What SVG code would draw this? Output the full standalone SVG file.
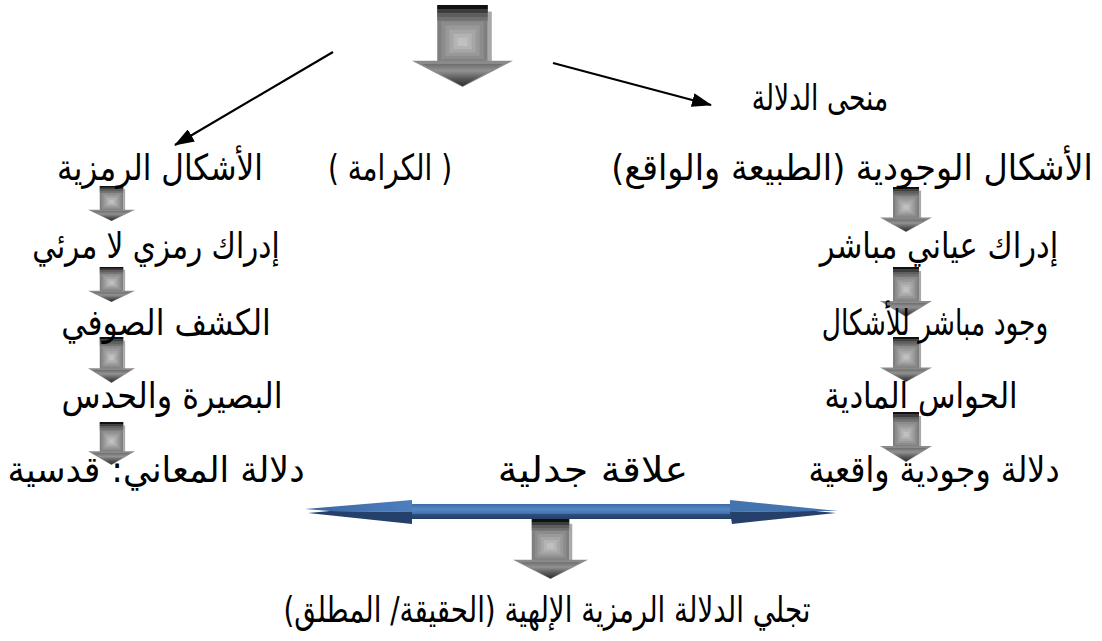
<svg xmlns="http://www.w3.org/2000/svg" xmlns:xlink="http://www.w3.org/1999/xlink" width="1102" height="641" viewBox="0 0 1102 641">
<style>
.t{font-family:"DejaVu Sans","Noto Sans",sans-serif;font-size:36px;fill:#000;text-anchor:middle;direction:rtl}
.ln{stroke:#000;stroke-width:2.2;fill:none}
</style>
<defs>
<linearGradient id="gHead" x1="0" y1="0" x2="0" y2="1">
<stop offset="0" stop-color="#6e6e6e"/>
<stop offset="0.3" stop-color="#929292"/>
<stop offset="0.65" stop-color="#5a5a5a"/>
<stop offset="1" stop-color="#2e2e2e"/>
</linearGradient>
<linearGradient id="bShaft" x1="0" y1="0" x2="0" y2="1">
<stop offset="0" stop-color="#3d6ba5"/>
<stop offset="0.35" stop-color="#5687c4"/>
<stop offset="0.62" stop-color="#4676b2"/>
<stop offset="0.7" stop-color="#2c4f80"/>
<stop offset="1" stop-color="#253f66"/>
</linearGradient>
<linearGradient id="bHx" x1="0" y1="0" x2="1" y2="0">
<stop offset="0" stop-color="#3a66a0"/>
<stop offset="1" stop-color="#4d7fbe"/>
</linearGradient>
<symbol id="ga" viewBox="0 0 100 100" preserveAspectRatio="none">
<rect x="75" y="8" width="4" height="62" fill="#a9a9a9"/>
<rect x="25" y="0" width="50" height="70" fill="#7f7f7f"/>
<rect x="29" y="20" width="42" height="46" fill="#8c8c8c"/>
<rect x="33" y="25" width="34" height="37" fill="#999"/>
<rect x="37" y="30" width="26" height="28" fill="#a6a6a6"/>
<rect x="41" y="35" width="18" height="19" fill="#b3b3b3"/>
<rect x="45" y="40" width="10" height="10" fill="#c0c0c0"/>
<rect x="25" y="0" width="50" height="5" fill="#111"/>
<rect x="25" y="5" width="50" height="5" fill="#3c3c3c"/>
<rect x="25" y="10" width="50" height="5" fill="#5e5e5e"/>
<rect x="25" y="15" width="50" height="4" fill="#707070"/>
<polygon points="0,68 100,68 50,100" fill="#8a8a8a"/>
<polygon points="10,72 90,72 50,99" fill="url(#gHead)"/>
</symbol>
<marker id="ah" viewBox="0 0 20 14" refX="19" refY="7" markerWidth="20" markerHeight="14" markerUnits="userSpaceOnUse" orient="auto">
<path d="M0,0 L20,7 L0,14 Z" fill="#000"/>
</marker>
</defs>
<rect width="1102" height="641" fill="#fff"/>

<g id="connectors">
<use xlink:href="#ga" x="412" y="5" width="101" height="82"/>
<line class="ln" x1="333" y1="52" x2="175" y2="145" marker-end="url(#ah)"/>
<line class="ln" x1="553" y1="63" x2="711" y2="105" marker-end="url(#ah)"/>
<use xlink:href="#ga" x="88" y="186" width="47" height="35"/>
<use xlink:href="#ga" x="88" y="267" width="47" height="35"/>
<use xlink:href="#ga" x="88" y="337" width="47" height="46"/>
<use xlink:href="#ga" x="88" y="422" width="47" height="43"/>
<use xlink:href="#ga" x="880" y="187" width="52" height="45"/>
<use xlink:href="#ga" x="880" y="267" width="52" height="50"/>
<use xlink:href="#ga" x="880" y="337" width="52" height="45"/>
<use xlink:href="#ga" x="880" y="412" width="52" height="50"/>
<g id="double-arrow">
<rect x="410" y="504" width="322" height="15" fill="url(#bShaft)"/>
<polygon points="305,509 412,500 412,512 330,511" fill="url(#bHx)"/>
<polygon points="308,513 330,511 412,512 412,524" fill="#25406a"/>
<polygon points="838,511 730,500 730,512 815,511" fill="#4474b0"/>
<polygon points="836,513 815,511 730,512 732,524" fill="#25406a"/>
</g>
<use xlink:href="#ga" x="513" y="519" width="75" height="60"/>
</g>

<g id="n-manha"><text class="t" transform="translate(820,110) scale(0.735,1)">منحى الدلالة</text></g>
<g id="n-karama"><text class="t" transform="translate(390,180) scale(0.775,1)">( الكرامة )</text></g>
<g id="n-ramzia"><text class="t" transform="translate(160,180) scale(0.864,1)">الأشكال الرمزية</text></g>
<g id="n-wujudia"><text class="t" transform="translate(852,180) scale(0.93,1)">الأشكال الوجودية (الطبيعة والواقع)</text></g>
<g id="n-idrak-ramzi"><text class="t" transform="translate(156,258) scale(0.82,1)">إدراك رمزي لا مرئي</text></g>
<g id="n-idrak-ayani"><text class="t" transform="translate(939,258) scale(0.85,1)">إدراك عياني مباشر</text></g>
<g id="n-kashf"><text class="t" transform="translate(166,335) scale(0.874,1)">الكشف الصوفي</text></g>
<g id="n-wujud"><text class="t" transform="translate(935,335) scale(0.736,1)">وجود مباشر للأشكال</text></g>
<g id="n-basira"><text class="t" transform="translate(172,408) scale(0.89,1)">البصيرة والحدس</text></g>
<g id="n-hawas"><text class="t" transform="translate(921,408) scale(0.854,1)">الحواس المادية</text></g>
<g id="n-maani"><text class="t" transform="translate(156,482) scale(0.964,1)">دلالة المعاني: قدسية</text></g>
<g id="n-alaqa"><text class="t" transform="translate(593,482) scale(1.1,1)">علاقة جدلية</text></g>
<g id="n-waqiia"><text class="t" transform="translate(934,482) scale(0.88,1)">دلالة وجودية واقعية</text></g>
<g id="n-tajalli"><text class="t" transform="translate(547,622) scale(0.77,1)">تجلي الدلالة الرمزية الإلهية (الحقيقة/ المطلق)</text></g>
</svg>
